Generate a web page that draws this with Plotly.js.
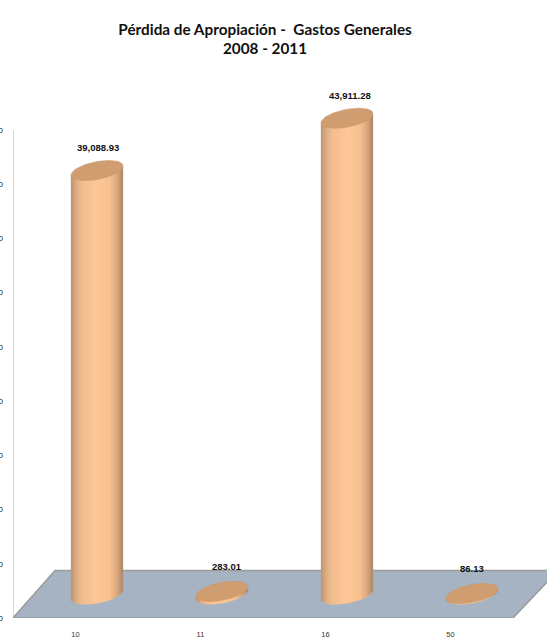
<!DOCTYPE html>
<html>
<head>
<meta charset="utf-8">
<script src="https://cdn.plot.ly/plotly-3.0.1.min.js"></script>
<style>html,body{margin:0;padding:0;background:#fff;overflow:hidden}</style>
</head>
<body>
<div id="chart" style="width:547px;height:640px"></div>
<script>
const categories = ['10', '11', '16', '50'];
const values = [39088.93, 283.01, 43911.28, 86.13];
const valueLabels = ['39,088.93', '283.01', '43,911.28', '86.13'];
const yTicks = [0, 5000, 10000, 15000, 20000, 25000, 30000, 35000, 40000, 45000];
const titleLines = ['Pérdida de Apropiación -  Gastos Generales', '2008 - 2011'];

// cylinder look (styling only)
const radiusX = 0.208, tiltY = 420, radiusY = 830, strips = 26;
const stops = [[0,[186,146,112]],[0.08,[214,168,128]],[0.2,[240,187,142]],[0.5,[253,199,151]],[0.75,[248,192,144]],[0.9,[214,166,124]],[1,[170,134,104]]];
function shade(p){
  for(let i=1;i<stops.length;i++){
    if(p<=stops[i][0]){
      const a=stops[i-1],b=stops[i],f=(p-a[0])/(b[0]-a[0]);
      return 'rgb('+a[1].map((c,j)=>Math.round(c+(b[1][j]-c)*f)).join(',')+')';
    }
  }
  return 'rgb(170,134,104)';
}
const xs = categories.map((_,i)=>i);
const traces = [];
for(let s=0;s<strips;s++){
  const p=(s+0.5)/strips, u=2*p-1, w=2*radiusX/strips;
  const front=radiusY*Math.sqrt(1-u*u);
  traces.push({
    type:'bar', xaxis:'x2', yaxis:'y2', x:xs,
    y:values.map(v=>v+front),
    base:values.map(()=>tiltY*u-front),
    width:w*1.15, offset:u*radiusX-w*0.575,
    marker:{color:shade(p),line:{width:0}},
    hoverinfo:'skip', showlegend:false
  });
}
// elliptical top of each cylinder
values.forEach((v,i)=>{
  const ex=[],ey=[];
  for(let d=0;d<=72;d++){
    const t=d/72*2*Math.PI;
    ex.push(i+radiusX*Math.cos(t));
    ey.push(v+tiltY*Math.cos(t)+radiusY*Math.sin(t));
  }
  traces.push({
    type:'scatter', mode:'lines', xaxis:'x2', yaxis:'y2', x:ex, y:ey,
    fill:'toself', fillcolor:'#cf9d70', line:{color:'#c99767',width:0.5},
    hoverinfo:'skip', showlegend:false
  });
});

const layout = {
  width:547, height:640,
  margin:{l:13,r:0,t:90,b:22,pad:0},
  paper_bgcolor:'#fff', plot_bgcolor:'rgba(0,0,0,0)',
  barmode:'overlay', showlegend:false, hovermode:false,
  title:{
    text:titleLines.join('<br>'),
    x:0.472, xanchor:'center', xref:'paper', y:0.946, yanchor:'top',
    font:{family:'Lato, Carlito, "Open Sans", sans-serif',size:15.3,color:'#111',weight:700}
  },
  xaxis:{
    range:[-0.5,3.772], tickvals:xs, ticktext:categories, ticks:'',
    showgrid:false, zeroline:false, showline:false, ticklabelstandoff:10,
    tickfont:{family:'"Liberation Sans", Arial, sans-serif',size:7.5,color:'#333'}
  },
  yaxis:{
    range:[0,48690], tickvals:yTicks, tickformat:',.2f', ticks:'',
    showgrid:false, zeroline:false, showline:false,
    ticklabelstandoff:9,
    tickfont:{family:'"Liberation Sans", Arial, sans-serif',size:8,color:'#222'}
  },
  xaxis2:{range:[-0.672,3.6], overlaying:'x', anchor:'y2', visible:false},
  yaxis2:{range:[-2176,46514], overlaying:'y', anchor:'x2', visible:false},
  shapes:[{
    type:'line', xref:'x', yref:'y', layer:'below',
    x0:-0.5, x1:-0.5, y0:0, y1:yTicks[yTicks.length-1],
    line:{color:'#b4b4b4',width:1}
  },{
    type:'path', xref:'x', yref:'y', layer:'below',
    path:'M -0.5 0 L -0.164 4380 L 3.86 4380 L 3.5 0 Z',
    fillcolor:'#a5b3c3', line:{color:'#9b9b9b',width:1.5}
  }],
  annotations:values.map((v,i)=>({
    xref:'x2', yref:'y2', x:i, y:v, text:valueLabels[i], showarrow:false,
    xshift:[0.5,5,3,0][i], yshift:[23,25,23,24.5][i],
    font:{family:'"Liberation Sans", Arial, sans-serif',size:9.5,color:'#111',weight:700}
  }))
};
Plotly.newPlot('chart',traces,layout,{displayModeBar:false,staticPlot:true});
</script>
</body>
</html>
